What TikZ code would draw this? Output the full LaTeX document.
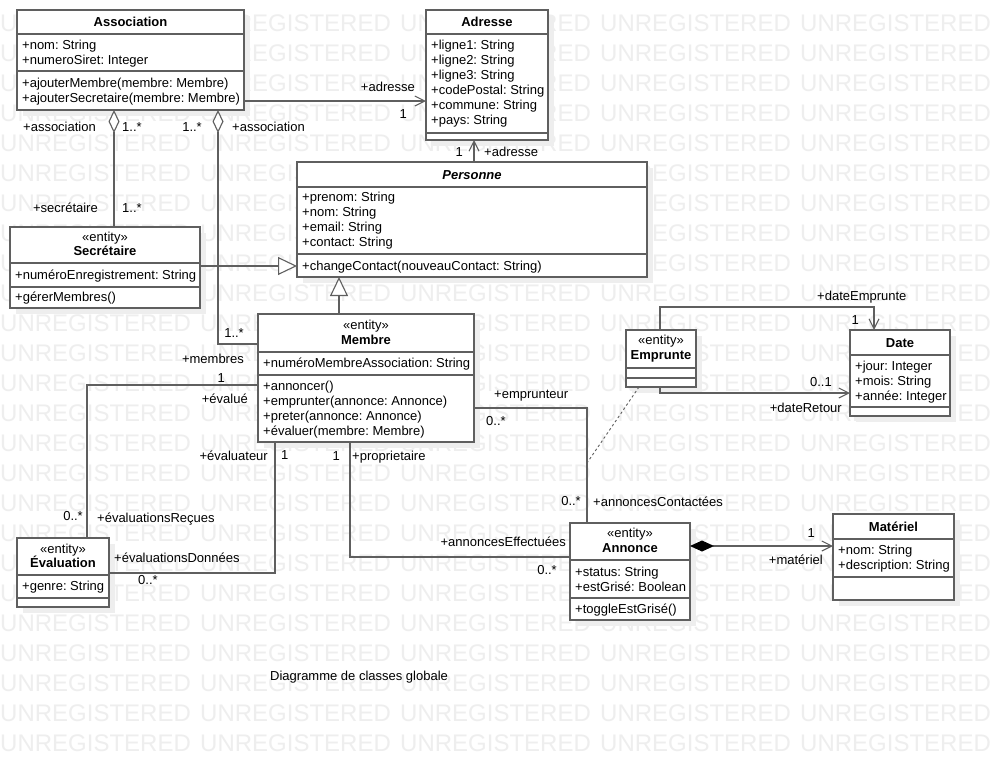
\documentclass[tikz,border=0pt]{standalone}
\usepackage{fontspec}
\setmainfont{Liberation Sans}
\usetikzlibrary{arrows.meta,shadows}
\definecolor{lc}{RGB}{95,95,95}
\definecolor{wmc}{RGB}{238,238,238}
\definecolor{shc}{RGB}{238,238,238}
\newcommand{\fs}{\fontsize{13pt}{15pt}\selectfont}
\newcommand{\wmfs}{\fontsize{24pt}{24pt}\selectfont}
\frenchspacing
\tikzset{
  tbarb/.tip={Straight Barb[length=10pt,width=10pt]},
  tgen/.tip={Triangle[open,length=19pt,width=18pt,fill=white]},
  tagg/.tip={Diamond[open,length=23pt,width=11pt,fill=white]},
  tcomp/.tip={Diamond[length=24pt,width=11pt,color=black]},
}
\begin{document}
\begin{tikzpicture}[x=1pt,y=-1pt,
  box/.style={draw=lc, fill=white, line width=1.3pt, inner sep=0pt, outer sep=0pt, anchor=north west,
    general shadow={fill=shc, shadow xshift=6pt, shadow yshift=-6pt}},
  div/.style={draw=lc, line width=1.3pt},
  conn/.style={draw=lc, line width=1.1pt},
  txt/.style={anchor=base west, inner sep=0pt, yshift=-4.5pt, font=\fs},
  txtr/.style={anchor=base east, inner sep=0pt, yshift=-4.5pt, font=\fs},
  ttl/.style={anchor=base, inner sep=0pt, yshift=-4.5pt, font=\fs},
  wm/.style={anchor=base west, inner sep=0pt, text=wmc, font=\wmfs},
]
\useasboundingbox (0,0) rectangle (994,769);
\fill[white] (0,0) rectangle (994,769);
% watermark
\foreach \r in {0,...,24}{\foreach \c in {0,...,4}{
  \node[wm] (wm-\r-\c) at (\c*200, 31+\r*30) {UNREGISTERED};}}

% ---------- boxes ----------
\node[box, minimum width=227pt, minimum height=100pt] (asc) at (17,10) {};
\node[box, minimum width=122pt, minimum height=130pt] (adr) at (426,10) {};
\node[box, minimum width=350pt, minimum height=115pt] (per) at (297,162) {};
\node[box, minimum width=190pt, minimum height=81pt] (sec) at (10,227) {};
\node[box, minimum width=216pt, minimum height=128pt] (mem) at (258,314) {};
\node[box, minimum width=70pt, minimum height=57pt] (emp) at (626,330) {};
\node[box, minimum width=100pt, minimum height=86pt] (dat) at (850,330) {};
\node[box, minimum width=92pt, minimum height=69pt] (eva) at (17,538) {};
\node[box, minimum width=120pt, minimum height=97pt] (ann) at (570,523) {};
\node[box, minimum width=121pt, minimum height=86pt] (mat) at (833,514) {};

% dividers
\draw[div] (asc.west |- 0,34) -- (asc.east |- 0,34);
\draw[div] (asc.west |- 0,71) -- (asc.east |- 0,71);
\draw[div] (adr.west |- 0,34) -- (adr.east |- 0,34);
\draw[div] (adr.west |- 0,133) -- (adr.east |- 0,133);
\draw[div] (per.west |- 0,187) -- (per.east |- 0,187);
\draw[div] (per.west |- 0,254) -- (per.east |- 0,254);
\draw[div] (sec.west |- 0,263) -- (sec.east |- 0,263);
\draw[div] (sec.west |- 0,287) -- (sec.east |- 0,287);
\draw[div] (mem.west |- 0,352) -- (mem.east |- 0,352);
\draw[div] (mem.west |- 0,375) -- (mem.east |- 0,375);
\draw[div] (emp.west |- 0,368) -- (emp.east |- 0,368);
\draw[div] (emp.west |- 0,378) -- (emp.east |- 0,378);
\draw[div] (dat.west |- 0,355) -- (dat.east |- 0,355);
\draw[div] (dat.west |- 0,407) -- (dat.east |- 0,407);
\draw[div] (eva.west |- 0,575) -- (eva.east |- 0,575);
\draw[div] (eva.west |- 0,598) -- (eva.east |- 0,598);
\draw[div] (ann.west |- 0,560) -- (ann.east |- 0,560);
\draw[div] (ann.west |- 0,598) -- (ann.east |- 0,598);
\draw[div] (mat.west |- 0,539) -- (mat.east |- 0,539);
\draw[div] (mat.west |- 0,577) -- (mat.east |- 0,577);

% ---------- class texts ----------
\node[ttl] (asc-t) at (130.5,22) {\textbf{Association}};
\node[txt] (asc-a1) at (22,45) {+nom: String};
\node[txt] (asc-a2) at (22,60) {+numeroSiret: Integer};
\node[txt] (asc-o1) at (22,83) {+ajouterMembre(membre: Membre)};
\node[txt] (asc-o2) at (22,98) {+ajouterSecretaire(membre: Membre)};

\node[ttl] (adr-t) at (487,22) {\textbf{Adresse}};
\node[txt] (adr-a1) at (431,45) {+ligne1: String};
\node[txt] (adr-a2) at (431,60) {+ligne2: String};
\node[txt] (adr-a3) at (431,75) {+ligne3: String};
\node[txt] (adr-a4) at (431,90) {+codePostal: String};
\node[txt] (adr-a5) at (431,105) {+commune: String};
\node[txt] (adr-a6) at (431,120) {+pays: String};

\node[ttl] (per-t) at (472,175) {\textbf{\textit{Personne}}};
\node[txt] (per-a1) at (302,197) {+prenom: String};
\node[txt] (per-a2) at (302,212) {+nom: String};
\node[txt] (per-a3) at (302,227) {+email: String};
\node[txt] (per-a4) at (302,242) {+contact: String};
\node[txt] (per-o1) at (302,266) {+changeContact(nouveauContact: String)};

\node[ttl] (sec-s) at (105,237) {«entity»};
\node[ttl] (sec-t) at (105,251) {\textbf{Secrétaire}};
\node[txt] (sec-a1) at (15,275) {+numéroEnregistrement: String};
\node[txt] (sec-o1) at (15,297) {+gérerMembres()};

\node[ttl] (mem-s) at (366,325) {«entity»};
\node[ttl] (mem-t) at (366,340) {\textbf{Membre}};
\node[txt] (mem-a1) at (263,363) {+numéroMembreAssociation: String};
\node[txt] (mem-o1) at (263,386) {+annoncer()};
\node[txt] (mem-o2) at (263,401) {+emprunter(annonce: Annonce)};
\node[txt] (mem-o3) at (263,416) {+preter(annonce: Annonce)};
\node[txt] (mem-o4) at (263,431) {+évaluer(membre: Membre)};

\node[ttl] (emp-s) at (661,340) {«entity»};
\node[ttl] (emp-t) at (661,355) {\textbf{Emprunte}};

\node[ttl] (dat-t) at (900,343) {\textbf{Date}};
\node[txt] (dat-a1) at (855,366) {+jour: Integer};
\node[txt] (dat-a2) at (855,381) {+mois: String};
\node[txt] (dat-a3) at (855,396) {+année: Integer};

\node[ttl] (eva-s) at (63,549) {«entity»};
\node[ttl] (eva-t) at (63,563) {\textbf{Évaluation}};
\node[txt] (eva-a1) at (22,586) {+genre: String};

\node[ttl] (ann-s) at (630,533) {«entity»};
\node[ttl] (ann-t) at (630,548) {\textbf{Annonce}};
\node[txt] (ann-a1) at (575,572) {+status: String};
\node[txt] (ann-a2) at (575,587) {+estGrisé: Boolean};
\node[txt] (ann-o1) at (575,609) {+toggleEstGrisé()};

\node[ttl] (mat-t) at (893.5,527) {\textbf{Matériel}};
\node[txt] (mat-a1) at (838,550) {+nom: String};
\node[txt] (mat-a2) at (838,565) {+description: String};

% ---------- connectors ----------
\coordinate (ac) at (587,463);
\coordinate (de) at (874,307);
\draw[conn, tagg-] (asc.south -| 114,0) -- (sec.north -| 114,0);
\draw[conn, tagg-] (asc.south -| 218,0) |- (mem.west |- 0,344);
\draw[conn, -tbarb] (asc.east |- 0,101) -- (adr.west |- 0,101);
\draw[conn, -tbarb] (per.north -| 474,0) -- (adr.south -| 474,0);
\draw[conn, -tgen] (sec.east |- 0,266) -- (per.west |- 0,266);
\draw[conn, -tgen] (mem.north -| 339,0) -- (per.south -| 339,0);
\draw[conn] (mem.west |- 0,385) -| (eva.north -| 87,0);
\draw[conn] (mem.south -| 275,0) |- (eva.east |- 0,573);
\draw[conn] (mem.south -| 350,0) |- (ann.west |- 0,557);
\draw[conn] (mem.east |- 0,408) -| (ann.north -| 587,0);
\draw[conn, line width=0.9pt, dash pattern=on 2.5pt off 2.5pt] (emp.south -| 639,0) -- (ac);
\draw[conn, -tbarb] (emp.north -| 660,0) |- (de) -- (dat.north -| 874,0);
\draw[conn, -tbarb] (emp.south -| 660,0) |- (dat.west |- 0,393);
\draw[conn, tcomp-tbarb] (ann.east |- 0,546) -- (mat.west |- 0,546);

% ---------- connector labels ----------
\node[txt] (l1) at (23,127) {+association};
\node[txt] (l2) at (122,127) {1..*};
\node[txtr] (l3) at (202,127) {1..*};
\node[txt] (l4) at (232,127) {+association};
\node[txtr] (l5) at (415,87) {+adresse};
\node[txtr] (l6) at (407,114) {1};
\node[txtr] (l7) at (463,152) {1};
\node[txt] (l8) at (484,152) {+adresse};
\node[txtr] (l9) at (98,208) {+secrétaire};
\node[txt] (l10) at (122,208) {1..*};
\node[txtr] (l11) at (244,333) {1..*};
\node[txtr] (l12) at (244,359) {+membres};
\node[txtr] (l13) at (225,378) {1};
\node[txtr] (l14) at (248,399) {+évalué};
\node[txtr] (l15) at (268,456) {+évaluateur};
\node[txt] (l16) at (281,455) {1};
\node[txtr] (l17) at (340,456) {1};
\node[txt] (l18) at (352,456) {+proprietaire};
\node[txt] (l19) at (494,394) {+emprunteur};
\node[txt] (l20) at (486,421) {0..*};
\node[txtr] (l21) at (581,501) {0..*};
\node[txt] (l22) at (593,502) {+annoncesContactées};
\node[txtr] (l23) at (566,542) {+annoncesEffectuées};
\node[txtr] (l24) at (557,570) {0..*};
\node[txtr] (l25) at (83,516) {0..*};
\node[txt] (l26) at (97,518) {+évaluationsReçues};
\node[txt] (l27) at (114,558) {+évaluationsDonnées};
\node[txt] (l28) at (138,580) {0..*};
\node[txt] (l29) at (817,296) {+dateEmprunte};
\node[txtr] (l30) at (859,320) {1};
\node[txtr] (l31) at (832,382) {0..1};
\node[txtr] (l32) at (842,408) {+dateRetour};
\node[txtr] (l33) at (815,533) {1};
\node[txtr] (l34) at (823,560) {+matériel};
\node[txt] (cap) at (270,676) {Diagramme de classes globale};
\end{tikzpicture}
\end{document}
